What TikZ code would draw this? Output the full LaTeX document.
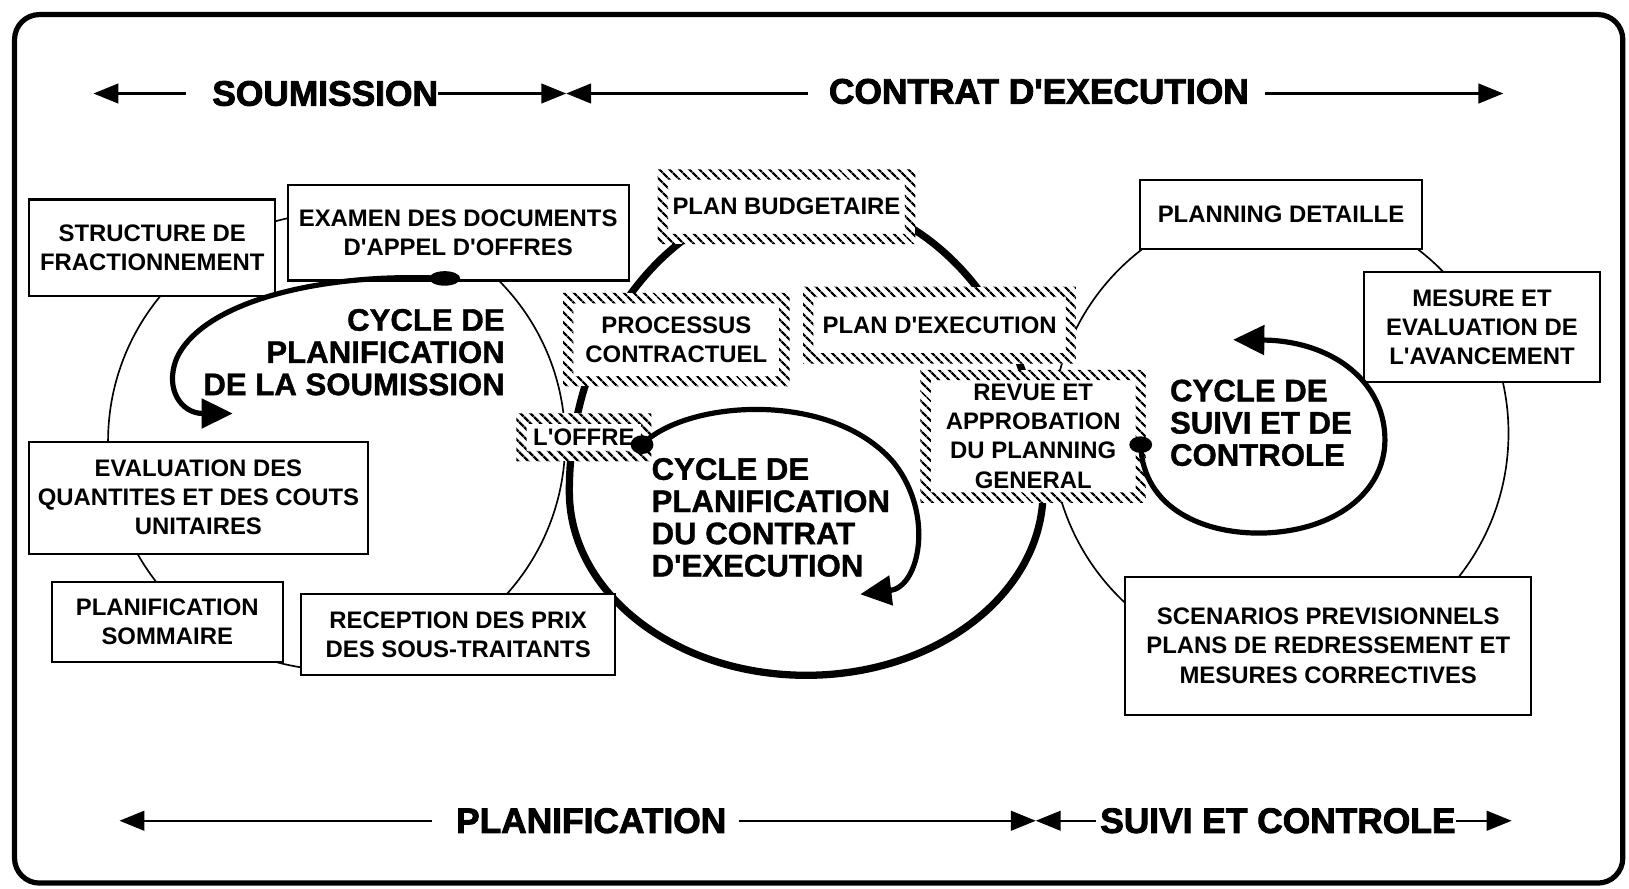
\documentclass[tikz,border=0pt]{standalone}
\usepackage{fontspec}
\setmainfont{Liberation Sans}
\newfontfamily\boxfont{Liberation Sans}
\newfontfamily\headfont[FakeBold=2.5]{Liberation Sans}
\newfontfamily\cyclefont[FakeBold=1.2]{Liberation Sans}
\usetikzlibrary{arrows.meta,patterns.meta}

\newcommand\boxtext{\boxfont\fontsize{23}{28}\selectfont\bfseries}

\begin{document}
\begin{tikzpicture}[x=1pt,y=-1pt,
  box/.style={draw, line width=2pt, fill=white, inner sep=0pt, align=center, font=\boxtext},
  hatchbox/.style={fill=white, inner sep=0pt, align=center, font=\boxtext,
    path picture={\fill[pattern={Lines[angle=-45,distance=6.5pt,line width=2.4pt]}, even odd rule]
      (path picture bounding box.south west) rectangle (path picture bounding box.north east)
      ([shift={(10pt,10pt)}]path picture bounding box.south west) rectangle
      ([shift={(-10pt,-10pt)}]path picture bounding box.north east);}},
  thinring/.style={line width=1.6pt},
  loop/.style={line width=7pt},
  cyc/.style={line width=5pt, -{Triangle[length=30pt,width=28pt]}},
  harrow/.style={line width=2pt, -{Triangle[length=24pt,width=19pt]}},
  head/.style={inner sep=0pt, font={\headfont\bfseries\fontsize{34}{36}\selectfont}},
  cyclab/.style={inner sep=0pt, font={\cyclefont\bfseries\fontsize{30}{31}\selectfont}},
]
\useasboundingbox (0,0) rectangle (1568,855);

% outer frame
\draw[line width=5pt, rounded corners=24pt] (14,14) rectangle (1562,850);

% thin rings of the two outer cycles
\draw[thinring] (324,425) circle [radius=220pt];
\draw[thinring] (1232,417) ellipse [x radius=220pt, y radius=222pt];

% thick ring of the central cycle (taller above, flatter below)
\draw[loop] (548,473) arc[start angle=180, end angle=0, x radius=228pt, y radius=283pt]
                      arc[start angle=0, end angle=-180, x radius=228pt, y radius=177pt];

% plain boxes
\node[box, minimum width=237pt, minimum height=93pt] (structure) at (146.5,238.5) {STRUCTURE DE\\FRACTIONNEMENT};
\node[box, minimum width=328pt, minimum height=92pt] (examen) at (441,224) {EXAMEN DES DOCUMENTS\\D'APPEL D'OFFRES};
\node[box, minimum width=326pt, minimum height=108pt] (evaluation) at (191,479) {EVALUATION DES\\QUANTITES ET DES COUTS\\UNITAIRES};
\node[box, minimum width=222pt, minimum height=77pt] (sommaire) at (161,598.5) {PLANIFICATION\\SOMMAIRE};
\node[box, minimum width=302pt, minimum height=78pt] (reception) at (441,611) {RECEPTION DES PRIX\\DES SOUS-TRAITANTS};
\node[box, minimum width=272pt, minimum height=67pt] (detaille) at (1233,206.5) {PLANNING DETAILLE};
\node[box, minimum width=227pt, minimum height=106pt] (mesure) at (1426.5,315) {MESURE ET\\EVALUATION DE\\L'AVANCEMENT};
\node[box, minimum width=391pt, minimum height=133pt] (scenarios) at (1278.5,621.5) {SCENARIOS PREVISIONNELS\\PLANS DE REDRESSEMENT ET\\MESURES CORRECTIVES};

% hatched boxes of the central cycle
\node[hatchbox, minimum width=248pt, minimum height=72pt] (budget) at (757,199) {PLAN BUDGETAIRE};
\node[hatchbox, minimum width=218pt, minimum height=90pt] (processus) at (651,327) {PROCESSUS\\CONTRACTUEL};
\node[hatchbox, minimum width=263pt, minimum height=74pt] (execution) at (904.5,313) {PLAN D'EXECUTION};
\node[hatchbox, minimum width=217pt, minimum height=128pt] (revue) at (994.5,420) {REVUE ET\\APPROBATION\\DU PLANNING\\GENERAL};
\node[hatchbox, minimum width=130pt, minimum height=46pt] (offre) at (562,421) {L'OFFRE};

% cycle labels
\node[cyclab, anchor=east, align=right] (lab1) at (486,339) {CYCLE DE\\PLANIFICATION\\DE LA SOUMISSION};
\node[cyclab, anchor=west, align=left] (lab2) at (627,498) {CYCLE DE\\PLANIFICATION\\DU CONTRAT\\D'EXECUTION};
\node[cyclab, anchor=west, align=left] (lab3) at (1126,407) {CYCLE DE\\SUIVI ET DE\\CONTROLE};

% cycle arrows
\coordinate (ls) at (428,268);
\coordinate (le) at (224,398);
\fill (ls) ellipse [x radius=15pt, y radius=7pt];
\draw[cyc] (ls) .. controls (310,262) and (195,290) .. (170,345) .. controls (158,375) and (175,398) .. (le);

\coordinate (cs) at (618,428);
\coordinate (ce) at (828,572);
\fill (cs) ellipse [x radius=11pt, y radius=9pt];
\draw[cyc] (cs) .. controls (660,385) and (800,375) .. (860,445) .. controls (900,495) and (885,565) .. (ce);

\coordinate (rs) at (1098,428);
\coordinate (re) at (1187,327);
\fill (rs) ellipse [x radius=11pt, y radius=8pt];
\draw[cyc] (rs) .. controls (1100,490) and (1160,515) .. (1218,513)
               .. controls (1290,510) and (1335,470) .. (1333,420)
               .. controls (1331,365) and (1280,328) .. (re);

% phase headings
\node[head] (soum) at (313,90) {SOUMISSION};
\node[head] (contrat) at (1000,88) {CONTRAT D'EXECUTION};
\node[head] (planif) at (569,790) {PLANIFICATION};
\node[head] (suivi) at (1230,790) {SUIVI ET CONTROLE};

\coordinate (t1) at (90,90);
\coordinate (t2) at (545,90);
\coordinate (t3) at (1447,90);
\draw[harrow] ([xshift=-25pt]soum.west) -- (t1);
\draw[harrow] (soum.east) -- (t2);
\draw[harrow] ([xshift=-20pt]contrat.west |- t2) -- (t2);
\draw[harrow] ([xshift=15pt]contrat.east |- t3) -- (t3);

\coordinate (b1) at (115,790);
\coordinate (b2) at (997,790);
\coordinate (b3) at (1455,790);
\draw[harrow] ([xshift=-23pt]planif.west) -- (b1);
\draw[harrow] ([xshift=12pt]planif.east) -- (b2);
\draw[harrow] ([xshift=-4pt]suivi.west) -- (b2);
\draw[harrow] (suivi.east) -- (b3);
\end{tikzpicture}
\end{document}
